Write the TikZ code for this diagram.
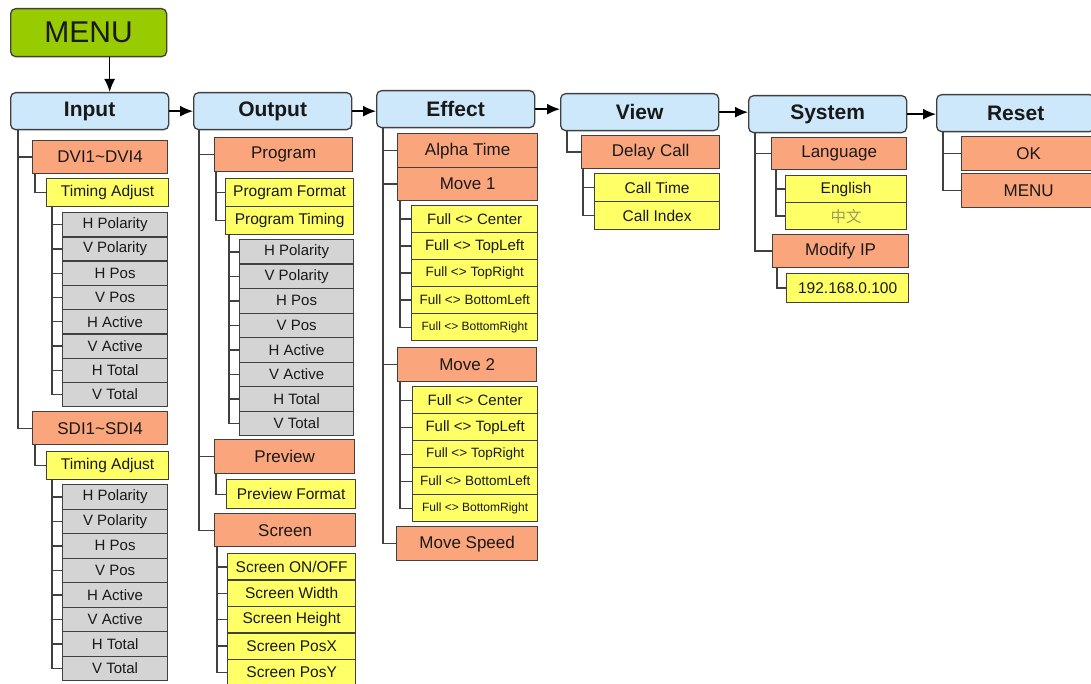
\documentclass[tikz,border=0pt]{standalone}
\usepackage{fontspec}
\usetikzlibrary{arrows.meta}
\setmainfont{Liberation Sans}
\newfontfamily\cjk{Noto Sans CJK SC}
\definecolor{menugreen}{HTML}{99CC00}
\definecolor{headblue}{HTML}{CCE8FA}
\definecolor{itemorange}{HTML}{FBA57D}
\definecolor{subyellow}{HTML}{FFFF66}
\definecolor{leafgrey}{HTML}{D4D4D4}
\definecolor{cjkolive}{HTML}{9C9A5C}
\begin{document}
\begin{tikzpicture}[x=1pt,y=-1pt,
  box/.style={draw=black!75,line width=1.3pt,anchor=north west,inner sep=0pt,text=black!90},
  head/.style={box,rounded corners=5pt,fill=headblue,minimum width=158pt,minimum height=37pt,font=\fontsize{21}{21}\selectfont\bfseries},
  item/.style={box,fill=itemorange,font=\fontsize{17}{17}\selectfont},
  sub/.style={box,fill=subyellow,font=\fontsize{15.5}{15.5}\selectfont},
  leaf/.style={box,fill=leafgrey,font=\fontsize{15}{15}\selectfont},
  tree/.style={draw=black!75,line width=1.3pt},
  arrow/.style={-{Latex[length=13pt,width=11pt]},line width=1.5pt}]
  \useasboundingbox (0,0) rectangle (1091,684);

  \node[box,rounded corners=5pt,fill=menugreen,minimum width=156pt,minimum height=48pt,font=\fontsize{30}{30}\selectfont] (menu) at (10,8) {MENU};

  \node[head] (inp) at (10,92) {Input};
  \node[head] (out) at (193,92) {Output};
  \node[head] (eff) at (376,90) {Effect};
  \node[head] (view) at (560,93) {View};
  \node[head] (sys) at (748,95) {System};
  \node[head] (rst) at (936,94) {Reset};

  \draw[arrow] ([xshift=21pt]menu.south) -- ([xshift=21pt]menu.south |- inp.north);
  \draw[arrow] (inp.east) -- (inp.east -| out.west);
  \draw[arrow] (out.east) -- (out.east -| eff.west);
  \draw[arrow] (eff.east) -- (eff.east -| view.west);
  \draw[arrow] (view.east) -- (view.east -| sys.west);
  \draw[arrow] (sys.east) -- (sys.east -| rst.west);

  % Input
  \node[item,minimum width=135pt,minimum height=33pt] (dvi) at (32,140) {DVI1\textasciitilde DVI4};
  \node[sub,minimum width=122pt,minimum height=28pt] (tadja) at (46,178) {Timing Adjust};
  \foreach \txt [count=\i] in {H Polarity,V Polarity,H Pos,V Pos,H Active,V Active,H Total,V Total}
    \node[leaf,minimum width=105pt,minimum height=24.25pt] (pa\i) at (62,{212+24.25*(\i-1)}) {\txt};
  \node[item,minimum width=135pt,minimum height=33pt] (sdi) at (32,411) {SDI1\textasciitilde SDI4};
  \node[sub,minimum width=122pt,minimum height=28pt] (tadjb) at (46,451) {Timing Adjust};
  \foreach \txt [count=\i] in {H Polarity,V Polarity,H Pos,V Pos,H Active,V Active,H Total,V Total}
    \node[leaf,minimum width=105pt,minimum height=24.5pt] (pb\i) at (62,{484+24.5*(\i-1)}) {\txt};

  \draw[tree] ([xshift=8pt]inp.south west) |- (dvi.west);
  \draw[tree] ([xshift=8pt]inp.south west) |- (sdi.west);
  \draw[tree] ([xshift=3pt]dvi.south west) |- (tadja.west);
  \draw[tree] ([xshift=3pt]sdi.south west) |- (tadjb.west);
  \foreach \i in {1,...,8} {
    \draw[tree] ([xshift=6pt]tadja.south west) |- (pa\i.west);
    \draw[tree] ([xshift=6pt]tadjb.south west) |- (pb\i.west);
  }

  % Output
  \node[item,minimum width=138pt,minimum height=34pt] (prog) at (214,137) {Program};
  \node[sub,minimum width=128pt,minimum height=28pt] (pfmt) at (225,178) {Program Format};
  \node[sub,minimum width=128pt,minimum height=28pt] (ptim) at (225,206) {Program Timing};
  \foreach \txt [count=\i] in {H Polarity,V Polarity,H Pos,V Pos,H Active,V Active,H Total,V Total}
    \node[leaf,minimum width=114pt,minimum height=24.5pt] (pc\i) at (239,{239+24.5*(\i-1)}) {\txt};
  \node[item,minimum width=140pt,minimum height=34pt] (prev) at (214,439) {Preview};
  \node[sub,minimum width=129pt,minimum height=29pt] (pvfmt) at (226,479) {Preview Format};
  \node[item,minimum width=141pt,minimum height=33pt] (scr) at (214,513) {Screen};
  \foreach \txt [count=\i] in {Screen ON/OFF,Screen Width,Screen Height,Screen PosX,Screen PosY}
    \node[sub,minimum width=128pt,minimum height=26.4pt] (sc\i) at (227,{553+26.4*(\i-1)}) {\txt};

  \foreach \n in {prog,prev,scr}
    \draw[tree] ([xshift=6pt]out.south west) |- (\n.west);
  \draw[tree] ([xshift=2pt]prog.south west) |- (pfmt.west);
  \draw[tree] ([xshift=2pt]prog.south west) |- (ptim.west);
  \draw[tree] ([xshift=2pt]prev.south west) |- (pvfmt.west);
  \foreach \i in {1,...,8}
    \draw[tree] ([xshift=4pt]ptim.south west) |- (pc\i.west);
  \foreach \i in {1,...,5}
    \draw[tree] ([xshift=3pt]scr.south west) |- (sc\i.west);

  % Effect
  \node[item,minimum width=140pt,minimum height=34pt] (alpha) at (397,133) {Alpha Time};
  \node[item,minimum width=140pt,minimum height=33pt] (mva) at (397,167) {Move 1};
  \node[item,minimum width=139pt,minimum height=34pt] (mvb) at (397,347) {Move 2};
  \node[item,minimum width=141pt,minimum height=34pt] (mvs) at (396,526) {Move Speed};
  \foreach \txt/\fs [count=\i] in {Full <> Center/15,Full <> TopLeft/15,Full <> TopRight/13.5,Full <> BottomLeft/13.5,Full <> BottomRight/12} {
    \node[sub,minimum width=126pt,minimum height=27pt,font=\fontsize{\fs}{\fs}\selectfont] (ma\i) at (411,{205+27*(\i-1)}) {\txt};
    \node[sub,minimum width=125pt,minimum height=27pt,font=\fontsize{\fs}{\fs}\selectfont] (mb\i) at (412,{386+27*(\i-1)}) {\txt};
  }

  \foreach \n in {alpha,mva,mvb,mvs}
    \draw[tree] ([xshift=7pt]eff.south west) |- (\n.west);
  \foreach \i in {1,...,5} {
    \draw[tree] ([xshift=3pt]mva.south west) |- (ma\i.west);
    \draw[tree] ([xshift=3pt]mvb.south west) |- (mb\i.west);
  }

  % View
  \node[item,minimum width=138pt,minimum height=33pt] (delay) at (581,135) {Delay Call};
  \node[sub,minimum width=125pt,minimum height=28pt] (ctime) at (594,173) {Call Time};
  \node[sub,minimum width=125pt,minimum height=28pt] (cidx) at (594,201) {Call Index};
  \draw[tree] ([xshift=7pt]view.south west) |- (delay.west);
  \draw[tree] ([xshift=2pt]delay.south west) |- (ctime.west);
  \draw[tree] ([xshift=2pt]delay.south west) |- (cidx.west);

  % System
  \node[item,minimum width=135pt,minimum height=32pt] (lang) at (771,137) {Language};
  \node[sub,minimum width=121pt,minimum height=27pt] (eng) at (785,175) {English};
  \node[sub,minimum width=121pt,minimum height=27pt,text=cjkolive] (chn) at (785,202) {\cjk 中文};
  \node[item,minimum width=136pt,minimum height=33pt] (mip) at (772,234) {Modify IP};
  \node[sub,minimum width=122pt,minimum height=29pt] (ip) at (786,273) {192.168.0.100};
  \draw[tree] ([xshift=7pt]sys.south west) |- (lang.west);
  \draw[tree] ([xshift=7pt]sys.south west) |- (mip.west);
  \draw[tree] ([xshift=5pt]lang.south west) |- (eng.west);
  \draw[tree] ([xshift=5pt]lang.south west) |- (chn.west);
  \draw[tree] ([xshift=5pt]mip.south west) |- (ip.west);

  % Reset
  \node[item,minimum width=134pt,minimum height=34pt] (ok) at (961,136) {OK};
  \node[item,minimum width=134pt,minimum height=34pt] (rmenu) at (961,173) {MENU};
  \draw[tree] ([xshift=7pt]rst.south west) |- (ok.west);
  \draw[tree] ([xshift=7pt]rst.south west) |- (rmenu.west);
\end{tikzpicture}
\end{document}
